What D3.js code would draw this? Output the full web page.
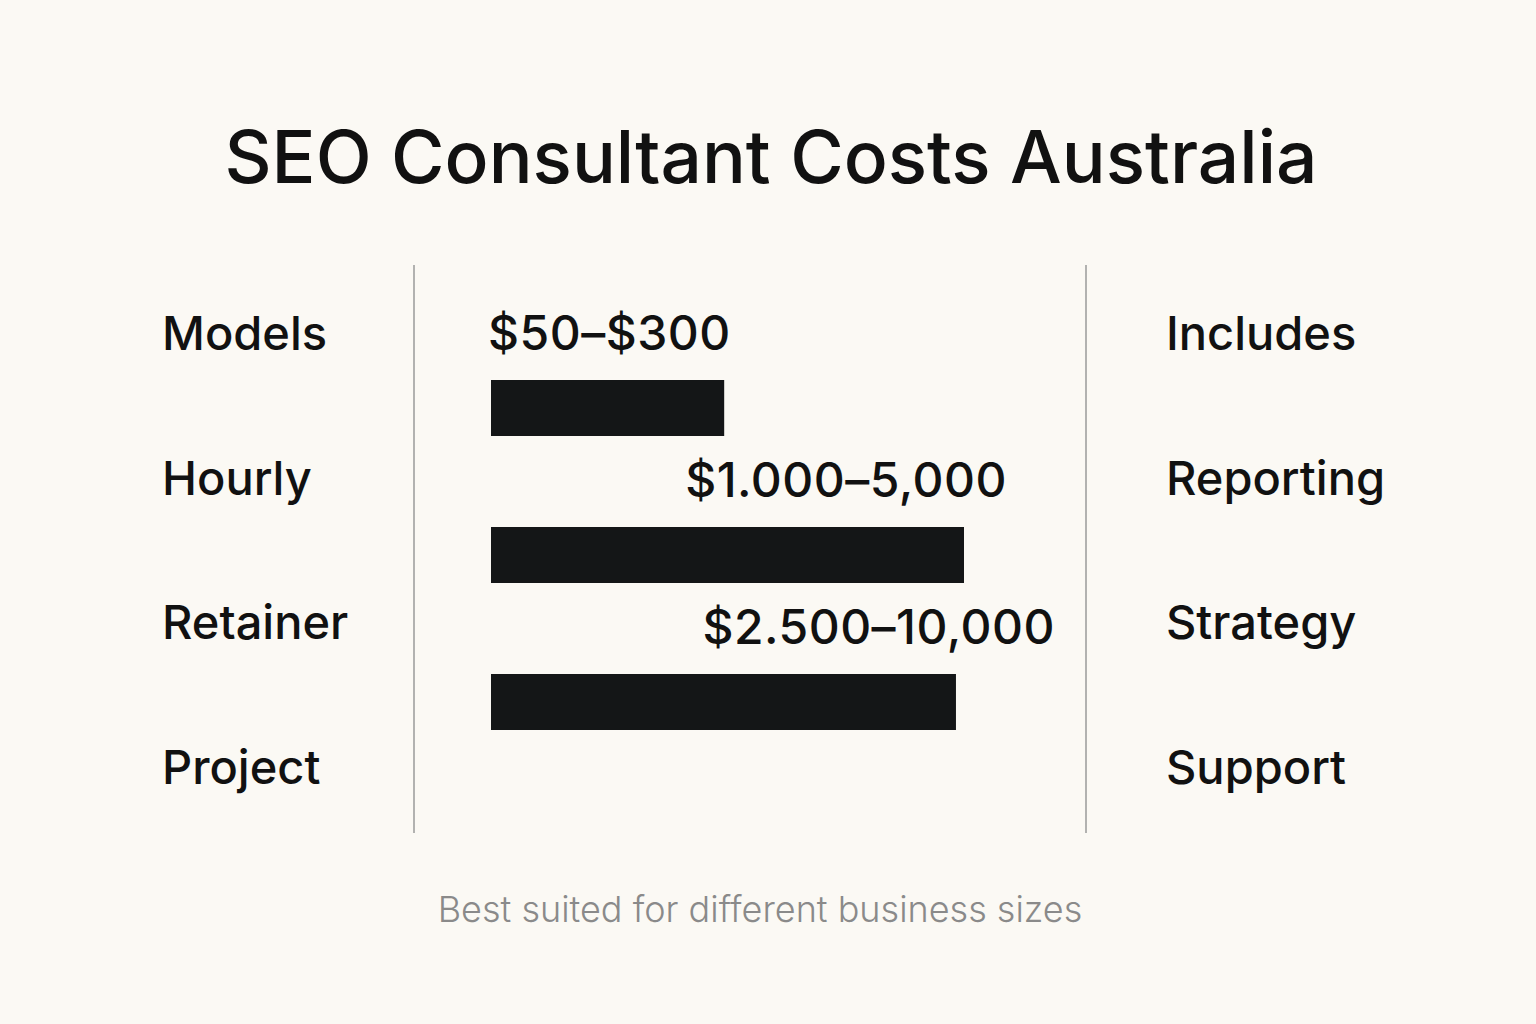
<!DOCTYPE html>
<html><head><meta charset="utf-8">
<script src="https://cdn.jsdelivr.net/npm/d3@7"></script>
<style>body{margin:0;background:#fbf9f4}</style>
</head><body>
<script>
// values
const models = ['Models', 'Hourly', 'Retainer', 'Project'];
const includes = ['Includes', 'Reporting', 'Strategy', 'Support'];
const priceLabels = ['$50–$300', '$1.000–5,000', '$2.500–10,000'];
const barLengths = [49.3, 100, 98.3]; // relative length, longest = 100

const width = 1536, height = 1024;
const svg = d3.select('body').append('svg')
    .attr('width', width)
    .attr('height', height)
    .style('font-family', 'Inter, "Noto Sans", sans-serif');

svg.append('rect').attr('width', width).attr('height', height).attr('fill', '#fbf9f4');

svg.append('text')
    .attr('x', 771).attr('y', 183)
    .attr('text-anchor', 'middle')
    .attr('font-size', 73).attr('font-weight', 500)
    .attr('fill', '#111')
    .text('SEO Consultant Costs Australia');

const rowY = d3.scalePoint().domain(d3.range(4)).range([350, 784]);
const x = d3.scaleLinear().domain([0, 100]).range([491, 964]);
const barTop = d3.scalePoint().domain(d3.range(3)).range([380, 674]);

svg.selectAll('text.model').data(models).join('text')
    .attr('class', 'model')
    .attr('x', 162).attr('y', (d, i) => rowY(i))
    .attr('font-size', 47).attr('font-weight', 500).attr('fill', '#111')
    .text(d => d);

svg.selectAll('text.inc').data(includes).join('text')
    .attr('class', 'inc')
    .attr('x', 1166).attr('y', (d, i) => rowY(i))
    .attr('font-size', 47).attr('font-weight', 500).attr('fill', '#111')
    .text(d => d);

svg.selectAll('line.sep').data([414, 1086]).join('line')
    .attr('class', 'sep')
    .attr('x1', d => d).attr('x2', d => d)
    .attr('y1', 265).attr('y2', 833)
    .attr('stroke', '#9a9a9a').attr('stroke-width', 1.5);

svg.selectAll('rect.bar').data(barLengths).join('rect')
    .attr('class', 'bar')
    .attr('x', x(0))
    .attr('y', (d, i) => barTop(i))
    .attr('width', d => x(d) - x(0))
    .attr('height', 56)
    .attr('fill', '#141617');

svg.selectAll('text.price').data(priceLabels).join('text')
    .attr('class', 'price')
    .attr('x', (d, i) => i === 0 ? 488 : x(barLengths[i]) + (i === 1 ? 43 : 99))
    .attr('y', (d, i) => barTop(i) - 30)
    .attr('text-anchor', (d, i) => i === 0 ? 'start' : 'end')
    .attr('font-size', 48).attr('font-weight', 500).attr('fill', '#111')
    .attr('letter-spacing', 0.5)
    .text(d => d);

svg.append('text')
    .attr('x', 760).attr('y', 922)
    .attr('text-anchor', 'middle')
    .attr('font-size', 36).attr('font-weight', 300)
    .attr('fill', '#8a8a8a')
    .text('Best suited for different business sizes');
</script>
</body></html>
